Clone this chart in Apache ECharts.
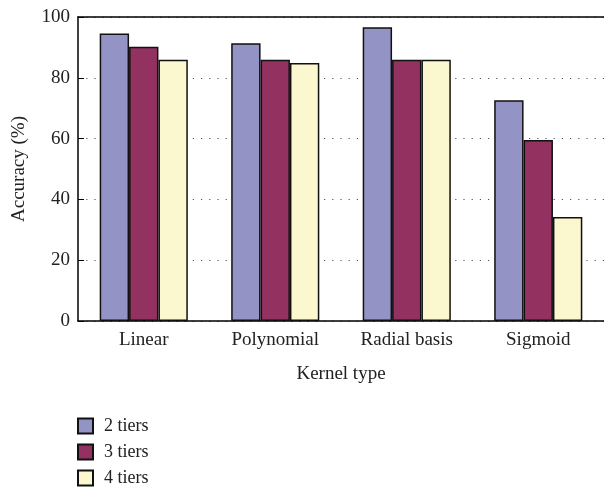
<!DOCTYPE html>
<html>
<head>
<meta charset="utf-8">
<script src="https://cdn.jsdelivr.net/npm/echarts@6/dist/echarts.min.js"></script>
<style>html,body{margin:0;padding:0;background:#fff;}#c{width:604px;height:487px;}</style>
</head>
<body>
<div id="c"></div>
<script>
const categories = ['Linear', 'Polynomial', 'Radial basis', 'Sigmoid'];
const seriesNames = ['2 tiers', '3 tiers', '4 tiers'];
const tiers2 = [94.6, 91.4, 96.6, 72.6];
const tiers3 = [90.2, 85.9, 85.9, 59.5];
const tiers4 = [85.9, 84.9, 85.9, 34.2];
const yTicks = [0, 20, 40, 60, 80, 100];
const colors = ['#9393c6', '#933160', '#fbf7cf'];

const font = 'Liberation Serif';
const chart = echarts.init(document.getElementById('c'));
const values = [tiers2, tiers3, tiers4];
chart.setOption({
  animation: false,
  textStyle: { fontFamily: font },
  grid: { left: 78, right: -2, top: 17, bottom: 166 },
  legend: {
    orient: 'vertical', left: 77, top: 417, padding: 0, height: 100,
    itemWidth: 15, itemHeight: 15, itemGap: 8,
    icon: 'rect',
    textStyle: { fontFamily: font, fontSize: 18, lineHeight: 15, color: '#222', padding: [0, 0, 0, 6] },
    data: seriesNames
  },
  xAxis: [{
    type: 'category', data: categories,
    axisLine: { lineStyle: { color: '#000', width: 1.5 } },
    axisTick: { inside: true, length: 6, lineStyle: { color: '#000' } },
    axisLabel: { fontFamily: font, fontSize: 19, color: '#222', margin: 10 },
    name: 'Kernel type', nameLocation: 'middle', nameGap: 44,
    nameTextStyle: { fontFamily: font, fontSize: 19, color: '#222' }
  }, {
    type: 'category', data: categories, position: 'top',
    axisLine: { show: true, onZero: false, lineStyle: { color: '#000', width: 1.5 } },
    axisTick: { show: false }, axisLabel: { show: false }
  }],
  yAxis: {
    type: 'value', min: yTicks[0], max: yTicks[yTicks.length - 1], interval: 20,
    axisLine: { show: true, lineStyle: { color: '#000', width: 1.5 } },
    axisTick: { show: true, inside: true, length: 6, lineStyle: { color: '#000' } },
    axisLabel: { fontFamily: font, fontSize: 19, color: '#222', margin: 8 },
    splitLine: { show: true, lineStyle: { color: '#555', type: [1.2, 7], width: 1.2 } },
    name: 'Accuracy (%)', nameLocation: 'middle', nameGap: 49, nameRotate: 90,
    nameTextStyle: { fontFamily: font, fontSize: 19, color: '#222' }
  },
  series: seriesNames.map((n, i) => ({
    name: n, type: 'bar', data: values[i],
    barGap: '0%', barCategoryGap: '33%',
    itemStyle: { color: colors[i], borderColor: '#111', borderWidth: 1.5 }
  }))
});
</script>
</body>
</html>
